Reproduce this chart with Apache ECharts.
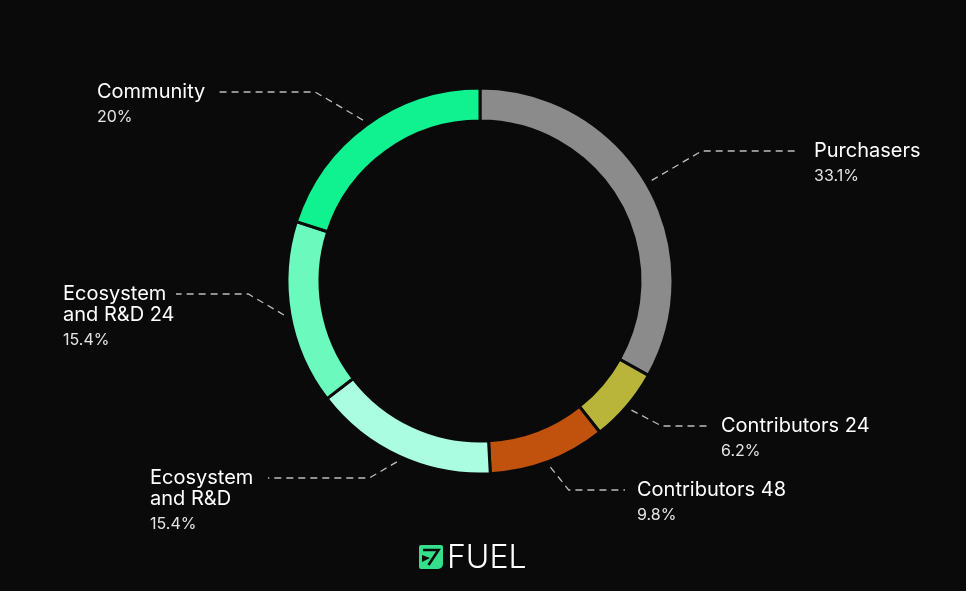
<!DOCTYPE html>
<html><head><meta charset="utf-8">
<script src="https://cdn.jsdelivr.net/npm/echarts@6/dist/echarts.min.js"></script>
<style>html,body{margin:0;padding:0;background:#0a0a0a;}#c{width:966px;height:591px;}</style>
</head><body><div id="c"></div>
<script>
const categories = ['Purchasers', 'Contributors 24', 'Contributors 48', 'Ecosystem and R&D', 'Ecosystem and R&D 24', 'Community'];
const labelNames = ['Purchasers', 'Contributors 24', 'Contributors 48', 'Ecosystem\nand R&D', 'Ecosystem\nand R&D 24', 'Community'];
const shares = [33.1, 6.2, 9.8, 15.4, 15.4, 20];
const colors = ['#8b8b8b', '#b8b53a', '#c0520e', '#aafde0', '#6cf9bd', '#10f28f'];

const CX = 480, CY = 281, R_OUT = 193, R_IN = 160;
// label placement (layout only): text top-left, end of dashed line, slope of the first leg
const labelBoxes = [
  { x: 814, y: 140, endX: 798, k: 1.7 },
  { x: 721, y: 415, endX: 708, k: 1.9 },
  { x: 637, y: 479, endX: 625, k: 0.8 },
  { x: 150, y: 467, endX: 268, k: 1.7 },
  { x: 63,  y: 283, endX: 176, k: 1.7 },
  { x: 97,  y: 81,  endX: 218, k: 1.7 }
];

const total = shares.reduce((a, c) => a + c, 0);
function midAngle(i) {
  let cum = 0;
  for (let j = 0; j < i; j++) cum += shares[j];
  return (cum + shares[i] / 2) / total * Math.PI * 2;
}

const chart = echarts.init(document.getElementById('c'));
chart.setOption({
  backgroundColor: '#0a0a0a',
  animation: false,
  series: [{
    type: 'pie',
    center: [CX, CY],
    radius: [R_IN, R_OUT],
    startAngle: 90,
    clockwise: true,
    avoidLabelOverlap: false,
    emphasis: { disabled: true },
    itemStyle: { borderColor: '#0a0a0a', borderWidth: 3 },
    data: categories.map((name, i) => ({ name: name, value: shares[i], itemStyle: { color: colors[i] } })),
    label: {
      show: true,
      position: 'outside',
      formatter: function (p) {
        const i = p.dataIndex;
        return labelNames[i].split('\n').map(s => '{n|' + s + '}').join('\n') + '\n{p|' + shares[i] + '%}';
      },
      rich: {
        n: { fontFamily: 'Inter', fontSize: 20, lineHeight: 21, color: '#ffffff', align: 'left' },
        p: { fontFamily: 'Inter', fontSize: 16, lineHeight: 30, color: '#e4e4e4', align: 'left' }
      }
    },
    labelLine: {
      show: true,
      smooth: false,
      length: 20,
      length2: 40,
      lineStyle: { type: [7, 5], color: '#bdbdbd', width: 1.3 }
    },
    labelLayout: function (p) {
      const i = p.dataIndex;
      const b = labelBoxes[i];
      const a = midAngle(i);
      const rr = 199;
      const x0 = CX + rr * Math.sin(a), y0 = CY - rr * Math.cos(a);
      const ly = b.y + 11;
      const side = Math.sin(a) >= 0 ? 1 : -1;
      const x1 = x0 + side * Math.abs(ly - y0) * b.k;
      return {
        x: b.x, y: b.y, align: 'left', verticalAlign: 'top', hideOverlap: false,
        labelLinePoints: [[x0, y0], [x1, ly], [b.endX, ly]]
      };
    }
  }],
  graphic: [
    { type: 'rect', shape: { x: 419, y: 545, width: 24, height: 24, r: [2, 2, 5, 2] }, style: { fill: '#34e08b' } },
    { type: 'polyline', shape: { points: [[423, 550], [438.5, 550], [428.5, 565]] }, style: { stroke: '#0a0a0a', lineWidth: 2.6, fill: null } },
    { type: 'polygon', shape: { points: [[422, 555], [430, 558], [422, 562]] }, style: { fill: '#0a0a0a' } },
    { type: 'text', x: 447, y: 558, style: { text: 'FUEL', fontFamily: 'Inter', fontSize: 32, fontWeight: 300, fill: '#ffffff', verticalAlign: 'middle', align: 'left' } }
  ]
});
</script>
</body></html>
